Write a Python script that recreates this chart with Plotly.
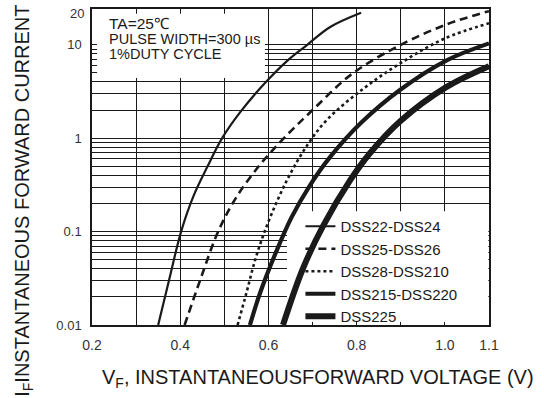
import plotly.graph_objects as go
import math

# ---------------- data ----------------
names = ["DSS22-DSS24", "DSS25-DSS26", "DSS28-DSS210", "DSS215-DSS220", "DSS225"]

vf_22 = [0.35, 0.376, 0.402, 0.43, 0.462, 0.495, 0.536, 0.59, 0.645, 0.688, 0.74, 0.81]
if_22 = [0.01, 0.032, 0.1, 0.24, 0.5, 1.0, 1.9, 3.8, 6.9, 10.0, 15.5, 22.0]

vf_25 = [0.41, 0.447, 0.486, 0.525, 0.578, 0.635, 0.70, 0.79, 0.90, 1.005, 1.10]
if_25 = [0.01, 0.032, 0.1, 0.224, 0.5, 1.0, 2.0, 4.9, 10.0, 16.6, 22.9]

vf_28 = [0.53, 0.55, 0.57, 0.593, 0.62, 0.65, 0.69, 0.733, 0.812, 0.898, 1.0, 1.10]
if_28 = [0.01, 0.022, 0.05, 0.105, 0.214, 0.42, 0.87, 1.58, 3.3, 6.3, 11.7, 17.0]

vf_215 = [0.558, 0.581, 0.617, 0.652, 0.692, 0.74, 0.81, 0.898, 1.003, 1.10]
if_215 = [0.01, 0.022, 0.06, 0.141, 0.302, 0.63, 1.46, 3.28, 6.78, 10.35]

vf_225 = [0.633, 0.678, 0.724, 0.785, 0.83, 0.898, 1.003, 1.10]
if_225 = [0.01, 0.04, 0.115, 0.353, 0.69, 1.51, 3.52, 5.9]

x_ticks = [0.2, 0.3, 0.4, 0.5, 0.6, 0.7, 0.8, 0.9, 1.0, 1.1]
x_labels = ["0.2", "", "0.4", "", "0.6", "", "0.8", "", "1.0", "1.1"]

y_ticks = [m * 10 ** e for e in (-2, -1, 0) for m in range(1, 10)] + [10]
y_labels = {0.01: "0.01", 0.1: "0.1", 1: "1", 10: "10"}
y_extra_label = 20

box_lines = ["TA=25℃", "PULSE WIDTH=300 µs", "1%DUTY CYCLE"]

# ---------------- figure ----------------
FONT = "Liberation Sans, Arial, sans-serif"
INK = "#1a1a1a"

series = [
    (vf_22, if_22, 2.2, "solid"),
    (vf_25, if_25, 2.6, "8px,5px"),
    (vf_28, if_28, 2.6, "3px,3px"),
    (vf_215, if_215, 4.2, "solid"),
    (vf_225, if_225, 6.0, "solid"),
]

fig = go.Figure()
for name, (xs, ys, w, dash) in zip(names, series):
    fig.add_trace(go.Scatter(
        x=xs, y=ys, mode="lines", name=name,
        line=dict(color=INK, width=w, dash=dash, shape="spline", smoothing=1.0),
    ))

ytext = []
for v in y_ticks:
    key = round(v, 4)
    lab = ""
    for k, t in y_labels.items():
        if abs(k - key) < 1e-9:
            lab = t
    ytext.append(lab)

fig.update_layout(
    width=544, height=398,
    margin=dict(l=92, r=55, t=7, b=73),
    paper_bgcolor="white", plot_bgcolor="white",
    font=dict(family=FONT, color=INK),
    showlegend=True,
    legend=dict(
        x=0.525, y=0.364, xanchor="left", yanchor="top",
        bgcolor="rgba(0,0,0,0)", borderwidth=0,
        font=dict(size=15, family=FONT, color=INK),
        itemwidth=30, tracegroupgap=0,
    ),
    xaxis=dict(
        range=[0.2, 1.1], tickvals=x_ticks, ticktext=x_labels,
        showgrid=True, gridcolor=INK, gridwidth=1,
        showline=True, linecolor=INK, linewidth=1.5, mirror=True,
        ticks="", zeroline=False,
        tickfont=dict(size=14, color="#333333", family=FONT),
        ticklabelstandoff=6,
    ),
    yaxis=dict(
        type="log", range=[-2, 1.383], tickvals=y_ticks, ticktext=ytext,
        showgrid=True, gridcolor=INK, gridwidth=1,
        showline=True, linecolor=INK, linewidth=1.5, mirror=True,
        ticks="", zeroline=False,
        tickfont=dict(size=13, color="#333333", family=FONT),
        ticklabelstandoff=6,
    ),
)

# white boxes behind text block and legend (above grid, below curves)
fig.add_shape(type="rect", xref="x", yref="y", layer="between",
              x0=0.2115, x1=0.592, y0=4.4, y1=21.5,
              fillcolor="white", line=dict(width=0))
fig.add_shape(type="rect", xref="x", yref="y", layer="between",
              x0=0.642, x1=1.0985, y0=0.0108, y1=0.165,
              fillcolor="white", line=dict(width=0))

# label "20" at top of y axis
fig.add_annotation(x=0, xref="paper", y=math.log10(y_extra_label), yref="y",
                   text=str(y_extra_label), showarrow=False, xanchor="right",
                   xshift=-6, yshift=3, font=dict(size=13, color="#333333", family=FONT))

# text block
box_sizes = [15.5, 14.5, 14.5]
box_y = [21.5, 37.5, 52.5]
for t, s, yp in zip(box_lines, box_sizes, box_y):
    fig.add_annotation(x=0.2 + 15 / 441, xref="x", y=1 - (yp - 7) / 318, yref="paper",
                       text=t, showarrow=False, xanchor="left", yanchor="middle",
                       font=dict(size=s, color=INK, family=FONT))

# axis titles
fig.add_annotation(x=(318 - 92) / 397, xref="paper", y=-(379 - 325) / 318, yref="paper",
                   text="V<sub>F</sub>, INSTANTANEOUSFORWARD VOLTAGE (V)", showarrow=False,
                   xanchor="center", yanchor="middle",
                   font=dict(size=20, color=INK, family=FONT))
fig.add_annotation(x=-(92 - 24) / 397, xref="paper", y=1 - (200 - 7) / 318, yref="paper",
                   text="I<sub>F</sub>INSTANTANEOUS FORWARD CURRENT", showarrow=False,
                   textangle=-90, xanchor="center", yanchor="middle",
                   font=dict(size=20, color=INK, family=FONT))

fig.write_html("out.html", post_script="document.body.style.margin='0';",
               config={"displayModeBar": False})
